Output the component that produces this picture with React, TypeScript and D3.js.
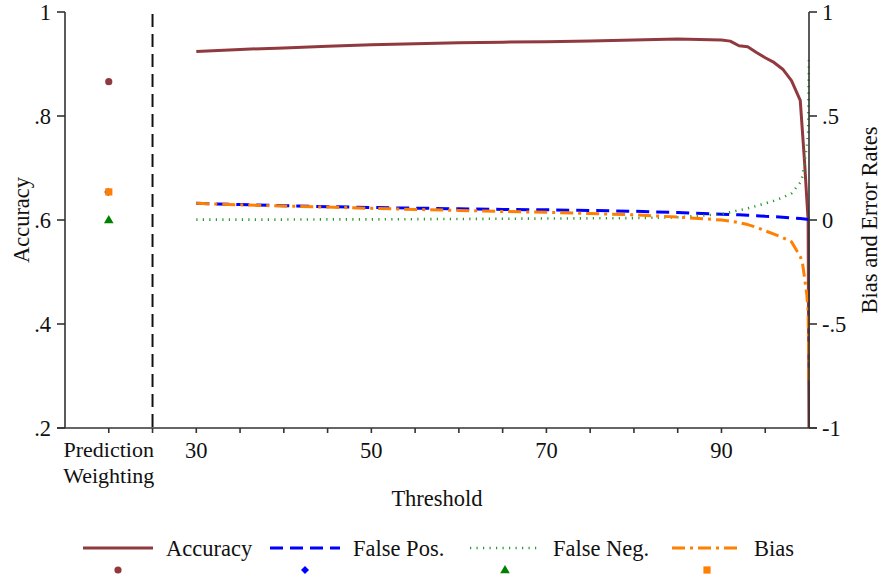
import React from "react";
import * as d3 from "d3";

const thresholds = [30, 35, 40, 45, 50, 55, 60, 65, 70, 75, 80, 85, 90, 91, 92, 93, 94, 95, 96, 97, 98, 99, 99.25, 99.5, 99.75, 99.9, 100];
const accuracy = [0.924, 0.928, 0.931, 0.934, 0.937, 0.939, 0.941, 0.942, 0.943, 0.944, 0.946, 0.948, 0.946, 0.944, 0.935, 0.933, 0.922, 0.912, 0.903, 0.89, 0.868, 0.83, 0.77, 0.71, 0.64, 0.6, 0.2];
const falsePos = [0.08, 0.074, 0.069, 0.064, 0.06, 0.057, 0.054, 0.051, 0.049, 0.046, 0.042, 0.036, 0.028, 0.026, 0.025, 0.023, 0.021, 0.018, 0.016, 0.013, 0.01, 0.007, 0.006, 0.005, 0.004, 0.003, 0.0];
const falseNeg = [0.002, 0.002, 0.002, 0.003, 0.003, 0.004, 0.005, 0.006, 0.007, 0.008, 0.009, 0.013, 0.028, 0.038, 0.047, 0.056, 0.068, 0.08, 0.093, 0.108, 0.128, 0.18, 0.21, 0.28, 0.355, 0.42, 0.78];
const bias = [0.08, 0.073, 0.067, 0.062, 0.056, 0.051, 0.046, 0.041, 0.037, 0.031, 0.025, 0.014, 0.0, -0.005, -0.013, -0.022, -0.035, -0.052, -0.068, -0.085, -0.105, -0.175, -0.205, -0.28, -0.36, -0.44, -0.78];

const pwX = 20;
const pwAccuracy = 0.866;
const pwFalsePos = 0.135;
const pwFalseNeg = 0.0;
const pwBias = 0.135;
const separatorX = 25;

const xTickValues = [20, 25, 30, 35, 40, 45, 50, 55, 60, 65, 70, 75, 80, 85, 90, 95];
const xLabelValues = [30, 50, 70, 90];
const leftTicks = [0.2, 0.4, 0.6, 0.8, 1];
const rightTicks = [-1, -0.5, 0, 0.5, 1];

const legendItems = ["Accuracy", "False Pos.", "False Neg.", "Bias"];

const C_ACC = "#903a40";
const C_FP = "#0000ff";
const C_FN = "#2a9a2a";
const C_BIAS = "#ff7f00";
const FONT = "'Liberation Serif', 'Times New Roman', serif";
const FS = 22.5;

const fmt = (v: number) => {
  if (v === 0) return "0";
  const s = String(Math.abs(v)).replace(/^0\./, ".");
  return (v < 0 ? "-" : "") + s;
};

export default function App() {
  const W = 881, H = 578;
  const x = d3.scaleLinear().domain([15, 100]).range([65, 809]);
  const yL = d3.scaleLinear().domain([0.2, 1]).range([428, 12]);
  const yR = d3.scaleLinear().domain([-1, 1]).range([428, 12]);
  const x0 = x.range()[0], x1 = x.range()[1];
  const yTop = yL.range()[1], yBot = yL.range()[0];

  const mk = (vals: number[], y: d3.ScaleLinear<number, number>) =>
    d3.line<number>().x((_, i) => x(thresholds[i])).y((d) => y(d))(vals) || "";

  const series = [
    { d: mk(accuracy, yL), color: C_ACC, w: 3, dash: undefined as string | undefined },
    { d: mk(falsePos, yR), color: C_FP, w: 3, dash: "13 7" },
    { d: mk(falseNeg, yR), color: C_FN, w: 2.6, dash: "1.2 5.3" },
    { d: mk(bias, yR), color: C_BIAS, w: 3, dash: "13 5 3 5" },
  ];

  const legendLineX = [83, 270, 470, 672];
  const legendTextX = [166, 353, 553, 754];
  const legendY = 548;
  const legendMarkY = 570;

  const marker = (kind: number, cx: number, cy: number, key?: string) => {
    if (kind === 0) return <circle key={key} cx={cx} cy={cy} r={3.6} fill={C_ACC} />;
    if (kind === 1)
      return <path key={key} d="M0,-4L4,0L0,4L-4,0Z" transform={`translate(${cx},${cy})`} fill={C_FP} />;
    if (kind === 2)
      return <path key={key} d={d3.symbol(d3.symbolTriangle, 40)()!} transform={`translate(${cx},${cy + 0.5})`} fill="#008000" />;
    return <rect key={key} x={cx - 3.6} y={cy - 3.6} width={7.2} height={7.2} fill={C_BIAS} />;
  };

  return (
    <svg width={W} height={H} style={{ position: "absolute", left: 0, top: 0, background: "#fff" }} fontFamily={FONT}>
      <rect width={W} height={H} fill="#fff" />
      <defs>
        <clipPath id="plot">
          <rect x={x0} y={yTop} width={x1 - x0 + 1} height={yBot - yTop} />
        </clipPath>
      </defs>

      {/* separator */}
      <line x1={x(separatorX)} x2={x(separatorX)} y1={yTop + 2} y2={yBot} stroke="#111" strokeWidth={2} strokeDasharray="13 7" />

      {/* series */}
      <g clipPath="url(#plot)">
        {series.map((s, i) => (
          <path key={i} d={s.d} fill="none" stroke={s.color} strokeWidth={s.w} strokeDasharray={s.dash} strokeLinejoin="round" />
        ))}
      </g>

      {/* prediction weighting markers */}
      {marker(0, x(pwX), yL(pwAccuracy))}
      {marker(1, x(pwX) - 0.5, yR(pwFalsePos))}
      {marker(2, x(pwX), yR(pwFalseNeg))}
      {marker(3, x(pwX), yR(pwBias))}

      {/* axes */}
      <g stroke="#333" strokeWidth={1.6}>
        <line x1={x0} x2={x0} y1={yTop} y2={yBot} />
        <line x1={x1} x2={x1} y1={yTop} y2={yBot} />
        <line x1={x0 - 8} x2={x1 + 8} y1={yBot} y2={yBot} />
        {leftTicks.map((t) => (
          <line key={"lt" + t} x1={x0 - 8} x2={x0} y1={yL(t)} y2={yL(t)} />
        ))}
        {rightTicks.map((t) => (
          <line key={"rt" + t} x1={x1} x2={x1 + 8} y1={yR(t)} y2={yR(t)} />
        ))}
        {xTickValues.map((t) => (
          <line key={"xt" + t} x1={x(t)} x2={x(t)} y1={yBot} y2={yBot + 5} />
        ))}
      </g>

      <g fontSize={FS} fill="#111">
        {leftTicks.map((t) => (
          <text key={"ll" + t} x={x0 - 14} y={yL(t)} dy="0.35em" textAnchor="end">{fmt(t)}</text>
        ))}
        {rightTicks.map((t) => (
          <text key={"rl" + t} x={x1 + 13} y={yR(t)} dy="0.35em" textAnchor="start">{fmt(t)}</text>
        ))}
        {xLabelValues.map((t) => (
          <text key={"xl" + t} x={x(t)} y={458} textAnchor="middle">{t}</text>
        ))}
        <text x={x(pwX)} y={456.5} textAnchor="middle" fontSize={22}>Prediction</text>
        <text x={x(pwX)} y={482.5} textAnchor="middle" fontSize={22}>Weighting</text>
        <text x={(x0 + x1) / 2} y={506} textAnchor="middle">Threshold</text>
        <text transform={`translate(29,${(yTop + yBot) / 2}) rotate(-90)`} textAnchor="middle">Accuracy</text>
        <text transform={`translate(877,${(yTop + yBot) / 2}) rotate(-90)`} textAnchor="middle">Bias and Error Rates</text>
      </g>

      {/* legend */}
      {legendItems.map((name, i) => {
        const s = series[i];
        const lx = legendLineX[i];
        return (
          <g key={name}>
            <line x1={lx} x2={lx + 70} y1={legendY} y2={legendY} stroke={s.color} strokeWidth={s.w} strokeDasharray={s.dash} />
            <text x={legendTextX[i]} y={legendY} dy="0.35em" fontSize={FS} fill="#111">{name}</text>
            {marker(i, lx + 35, legendMarkY)}
          </g>
        );
      })}
    </svg>
  );
}
